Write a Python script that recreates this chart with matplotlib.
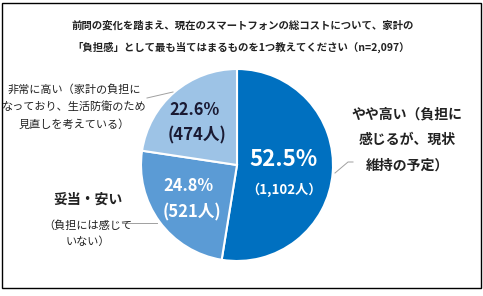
import matplotlib
matplotlib.use("Agg")
import matplotlib.pyplot as plt
from matplotlib.patches import Rectangle

plt.rcParams['font.family'] = ['Noto Sans CJK JP', 'DejaVu Sans']

# ================= data =================
shares = [52.5, 24.8, 22.6]
counts = ["1,102", "521", "474"]
colors = ["#0070C0", "#5B9BD5", "#9DC3E6"]
title = ["前問の変化を踏まえ、現在のスマートフォンの総コストについて、家計の",
         "「負担感」として最も当てはまるものを1つ教えてください（n=2,097）"]

W, H = 483, 296
fig = plt.figure(figsize=(W / 100, H / 100), dpi=100)
ax = fig.add_axes([0, 0, 1, 1])

def py(y):
    # pixel row -> data y
    return H - y

# pie
cx, cy, r = 237, 165, 96
ax.pie(shares, colors=colors, startangle=90, counterclock=False,
       center=(cx, py(cy)), radius=r, frame=True,
       wedgeprops=dict(edgecolor="white", linewidth=1.5))
ax.set_xlim(0, W)
ax.set_ylim(0, H)
ax.set_aspect("equal")
ax.axis("off")

# frame
ax.add_patch(Rectangle((2, py(288)), 479, 285, fill=False, edgecolor="black", linewidth=1))

# title
ax.text(243, py(26), title[0], ha="center", va="center", fontsize=7.5, fontweight="bold", color="#222222")
ax.text(241, py(47), title[1], ha="center", va="center", fontsize=7.5, fontweight="bold", color="#222222")

# value labels inside slices
ax.text(284, py(160), f"{shares[0]}%", ha="center", va="center", fontsize=16, fontweight="bold", color="white")
ax.text(284, py(190), f"（{counts[0]}人）", ha="center", va="center", fontsize=9.5, fontweight="bold", color="white")
ax.text(188, py(186), f"{shares[1]}%", ha="center", va="center", fontsize=11.8, fontweight="bold", color="white")
ax.text(192, py(212), f"({counts[1]}人)", ha="center", va="center", fontsize=12, fontweight="bold", color="white")
ax.text(195, py(110), f"{shares[2]}%", ha="center", va="center", fontsize=11.8, fontweight="bold", color="#1a1a33")
ax.text(197, py(135), f"({counts[2]}人)", ha="center", va="center", fontsize=12, fontweight="bold", color="#1a1a33")

# category labels
ax.text(407, py(140), "やや高い（負担に\n感じるが、現状\n維持の予定）", ha="center", va="center",
        fontsize=10, fontweight="bold", color="#222222", linespacing=2.05)
ax.plot([335, 348, 353], [py(173), py(162), py(162)], color="#a0a0a0", linewidth=0.7)

ax.text(74, py(107), "非常に高い（家計の負担に\nなっており、生活防衛のため\n見直しを考えている）",
        ha="center", va="center", fontsize=8, color="#222222", linespacing=1.75)
ax.plot([147, 173], [py(98), py(92)], color="#a0a0a0", linewidth=0.7)

ax.text(88, py(200), "妥当・安い", ha="center", va="center", fontsize=10, fontweight="bold", color="#222222")
ax.text(88, py(233.5), "（負担には感じて\nいない）", ha="center", va="center",
        fontsize=8, color="#222222", linespacing=1.7)
ax.plot([122, 157], [py(223), py(223)], color="#a0a0a0", linewidth=0.7)

fig.savefig("out.png", dpi=100)
